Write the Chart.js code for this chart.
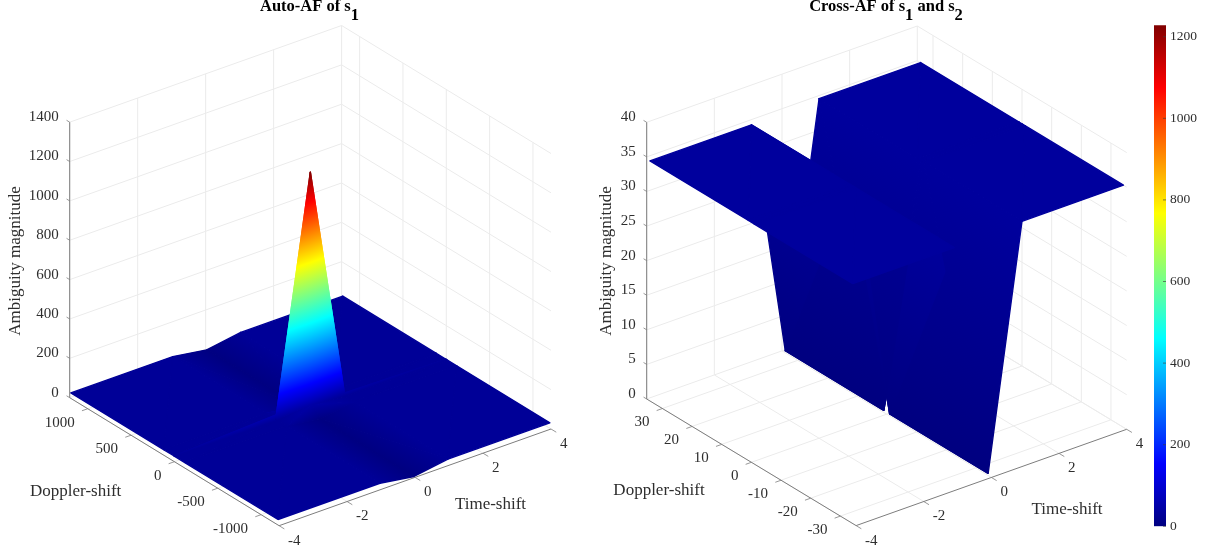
<!DOCTYPE html>
<html>
<head>
<meta charset="utf-8">
<title>Ambiguity functions</title>
<style>
    html, body { margin: 0; padding: 0; background: #fff; }
    body { position: relative; width: 1211px; height: 557px; overflow: hidden; }
    canvas { position: absolute; top: 0; }
    #autoChart { left: 0; }
    #crossChart { left: 595px; }
    #colorBar { left: 1140px; }
</style>
<script src="https://cdn.jsdelivr.net/npm/chart.js@4/dist/chart.umd.min.js"></script>
</head>
<body>
<canvas id="autoChart" width="595" height="557"></canvas>
<canvas id="crossChart" width="560" height="557"></canvas>
<canvas id="colorBar" width="71" height="557"></canvas>
<script>
// Values
var timeGrid = [-4, -1, 0, 1, 4];
var timeTicks = [-4, -2, 0, 2, 4];

var autoDoppler = [-1195, -120, -8, 0, 8, 120, 1195];
var autoMagnitude = [
    [28, 28, 28, 28, 28, 28, 28],
    [28, 28, 28, 53, 28, 28, 28],
    [1, 2, 47, 1225, 47, 2, 1],
    [28, 28, 28, 41, 28, 28, 28],
    [28, 28, 28, 28, 28, 28, 28]
];
var autoDopplerTicks = [-1000, -500, 0, 500, 1000];
var autoMagnitudeTicks = [0, 200, 400, 600, 800, 1000, 1200, 1400];

var crossDoppler = [-34.2, -1, 0, 1, 34.2];
var crossMagnitude = [
    [34.7, 34.7, 34.7, 34.7, 34.7],
    [34.7, 34.7, 34.7, 34.7, 34.7],
    [0.3, 0.3, 2.8, 0.3, 0.3],
    [35, 35, 35, 35, 35],
    [35, 35, 35, 35, 35]
];
var crossDopplerTicks = [-30, -20, -10, 0, 10, 20, 30];
var crossMagnitudeTicks = [0, 5, 10, 15, 20, 25, 30, 35, 40];

var colorTicks = [0, 200, 400, 600, 800, 1000, 1200];
var colorMax = 1228;

// jet colormap, position along the colour axis -> colour
var jetPositions = [0, 0.125, 0.375, 0.625, 0.875, 1];
var jetColors = [[0, 0, 128], [0, 0, 255], [0, 255, 255], [255, 255, 0], [255, 0, 0], [128, 0, 0]];

var SERIF = '"Liberation Serif", "Times New Roman", serif';
var TEXT_COLOR = '#2e2e2e';
var GRID_COLOR = '#ebebeb';
var AXIS_COLOR = '#7d7d7d';

function jet(value) {
    var p = Math.max(0, Math.min(1, value / colorMax));
    for (var i = 1; i < jetPositions.length; i++) {
        if (p <= jetPositions[i]) {
            var f = (p - jetPositions[i - 1]) / (jetPositions[i] - jetPositions[i - 1]);
            var a = jetColors[i - 1], b = jetColors[i];
            return 'rgb(' + Math.round(a[0] + (b[0] - a[0]) * f) + ',' +
                Math.round(a[1] + (b[1] - a[1]) * f) + ',' +
                Math.round(a[2] + (b[2] - a[2]) * f) + ')';
        }
    }
    return 'rgb(128,0,0)';
}

// 3D box of one panel as seen on the page
function makeView(cfg) {
    var near = [cfg.left[0] + cfg.right[0] - cfg.back[0], cfg.left[1] + cfg.right[1] - cfg.back[1]];
    var view = {
        cfg: cfg,
        left: cfg.left,
        near: near,
        back: cfg.back,
        right: cfg.right,
        zUnit: cfg.zPixels / cfg.zMax,
        tMin: -4,
        tMax: 4
    };
    view.ax = cfg.right[0] - near[0];
    view.ay = cfg.right[1] - near[1];
    view.bx = near[0] - cfg.left[0];
    view.by = near[1] - cfg.left[1];
    return view;
}

function project(view, t, d, z) {
    var u = (t - view.tMin) / (view.tMax - view.tMin);
    var v = (view.cfg.dMax - d) / (2 * view.cfg.dMax);
    return {
        x: view.left[0] + u * view.ax + v * view.bx,
        y: view.left[1] + u * view.ay + v * view.by - z * view.zUnit
    };
}

// bigger = closer to the viewer
function depth(view, t, d, z) {
    var u = (t - view.tMin) / (view.tMax - view.tMin);
    var v = (view.cfg.dMax - d) / (2 * view.cfg.dMax);
    var k = view.zUnit;
    return -k * view.bx * u + k * view.ax * v + (view.ax * view.by - view.bx * view.ay) * z * 1;
}

// linear gradient across a triangle so the colour follows the value at each corner
function triangleFill(chart, pts, vals) {
    var sx = chart.scales.x, sy = chart.scales.y;
    var lo = Math.min(vals[0], vals[1], vals[2]);
    var hi = Math.max(vals[0], vals[1], vals[2]);
    if (hi - lo < 0.01) {
        return jet(lo);
    }
    // scales have no pixels before the first layout
    if (!chart.chartArea || !sx || !isFinite(sx.getPixelForValue(pts[0].x))) {
        return jet((lo + hi) / 2);
    }
    var p = pts.map(function(q) {
        return [sx.getPixelForValue(q.x), sy.getPixelForValue(q.y)];
    });
    var dx1 = p[1][0] - p[0][0], dy1 = p[1][1] - p[0][1], dv1 = vals[1] - vals[0];
    var dx2 = p[2][0] - p[0][0], dy2 = p[2][1] - p[0][1], dv2 = vals[2] - vals[0];
    var det = dx1 * dy2 - dx2 * dy1;
    if (Math.abs(det) < 1e-6) {
        return jet((lo + hi) / 2);
    }
    var a = (dv1 * dy2 - dv2 * dy1) / det;
    var b = (dx1 * dv2 - dx2 * dv1) / det;
    var g2 = a * a + b * b;
    var start = p[vals.indexOf(lo)];
    var gradient = chart.ctx.createLinearGradient(start[0], start[1],
        start[0] + a * (hi - lo) / g2, start[1] + b * (hi - lo) / g2);
    gradient.addColorStop(0, jet(lo));
    jetPositions.forEach(function(pos) {
        var value = pos * colorMax;
        if (value > lo && value < hi) {
            gradient.addColorStop((value - lo) / (hi - lo), jet(value));
        }
    });
    gradient.addColorStop(1, jet(hi));
    return gradient;
}

function lineDataset(points, color, width) {
    return {
        data: points,
        showLine: true,
        fill: false,
        borderColor: color,
        borderWidth: width,
        pointRadius: 0,
        pointHoverRadius: 0
    };
}

function triangleDataset(pts, vals) {
    var colorOf = function(ctx) {
        return triangleFill(ctx.chart, pts, vals);
    };
    return {
        data: [pts[0], pts[1], pts[2], pts[0]],
        showLine: true,
        fill: 'shape',
        backgroundColor: colorOf,
        borderColor: colorOf,
        // wide enough to hide the seams between neighbouring triangles
        borderWidth: 1.4,
        borderJoinStyle: 'round',
        pointRadius: 0,
        pointHoverRadius: 0
    };
}

function surfaceDatasets(view, doppler, magnitude) {
    var triangles = [];
    function corner(i, j) {
        return { t: timeGrid[i], d: doppler[j], z: magnitude[i][j] };
    }
    function pushTriangle(a, b, c) {
        triangles.push({
            corners: [a, b, c],
            order: (depth(view, a.t, a.d, a.z) + depth(view, b.t, b.d, b.z) + depth(view, c.t, c.d, c.z)) / 3
        });
    }
    for (var i = 0; i < timeGrid.length - 1; i++) {
        for (var j = 0; j < doppler.length - 1; j++) {
            var a = corner(i, j), b = corner(i + 1, j), c = corner(i + 1, j + 1), e = corner(i, j + 1);
            // split along the flatter diagonal
            if (Math.abs(a.z - c.z) <= Math.abs(b.z - e.z)) {
                pushTriangle(a, b, c);
                pushTriangle(a, c, e);
            } else {
                pushTriangle(a, b, e);
                pushTriangle(b, c, e);
            }
        }
    }
    // first dataset is painted last, so the closest goes first
    triangles.sort(function(p, q) { return q.order - p.order; });
    return triangles.map(function(tri) {
        var pts = tri.corners.map(function(k) { return project(view, k.t, k.d, k.z); });
        var vals = tri.corners.map(function(k) { return k.z; });
        return triangleDataset(pts, vals);
    });
}

function frameDatasets(view, dopplerTicks, zTicks) {
    var out = [];
    var dMax = view.cfg.dMax, zMax = view.cfg.zMax;
    var tMin = view.tMin, tMax = view.tMax;

    // tick stubs and the three axis lines
    var zStub = dMax * 0.03, dStub = 0.17, tStub = dMax * 0.05;
    zTicks.forEach(function(z) {
        out.push(lineDataset([project(view, tMin, dMax, z), project(view, tMin, dMax + zStub, z)], AXIS_COLOR, 0.8));
    });
    dopplerTicks.forEach(function(d) {
        out.push(lineDataset([project(view, tMin, d, 0), project(view, tMin - dStub, d, 0)], AXIS_COLOR, 0.8));
    });
    timeTicks.forEach(function(t) {
        out.push(lineDataset([project(view, t, -dMax, 0), project(view, t, -dMax - tStub, 0)], AXIS_COLOR, 0.8));
    });
    out.push(lineDataset([project(view, tMin, dMax, 0), project(view, tMin, dMax, zMax)], AXIS_COLOR, 1));
    out.push(lineDataset([project(view, tMin, dMax, 0), project(view, tMin, -dMax, 0)], AXIS_COLOR, 1));
    out.push(lineDataset([project(view, tMin, -dMax, 0), project(view, tMax, -dMax, 0)], AXIS_COLOR, 1));

    // walls and floor
    zTicks.forEach(function(z) {
        out.push(lineDataset([project(view, tMin, dMax, z), project(view, tMax, dMax, z), project(view, tMax, -dMax, z)], GRID_COLOR, 1));
    });
    timeTicks.forEach(function(t) {
        out.push(lineDataset([project(view, t, -dMax, 0), project(view, t, dMax, 0), project(view, t, dMax, zMax)], GRID_COLOR, 1));
    });
    dopplerTicks.forEach(function(d) {
        out.push(lineDataset([project(view, tMin, d, 0), project(view, tMax, d, 0), project(view, tMax, d, zMax)], GRID_COLOR, 1));
    });
    return out;
}

function drawPanelText(chart, view, dopplerTicks, zTicks, text) {
    var ctx = chart.ctx;
    var sx = chart.scales.x, sy = chart.scales.y;

    function put(str, x, y, align) {
        ctx.textAlign = align;
        ctx.fillText(str, sx.getPixelForValue(x), sy.getPixelForValue(y));
    }

    ctx.save();
    ctx.fillStyle = TEXT_COLOR;
    ctx.textBaseline = 'middle';
    ctx.font = '15px ' + SERIF;

    zTicks.forEach(function(z) {
        var p = project(view, view.tMin, view.cfg.dMax, z);
        put(String(z), p.x - 11, p.y - 5, 'right');
    });
    dopplerTicks.forEach(function(d) {
        var p = project(view, view.tMin, d, 0);
        put(String(d), p.x - 13, p.y + 14, 'right');
    });
    timeTicks.forEach(function(t) {
        var p = project(view, t, -view.cfg.dMax, 0);
        put(String(t), p.x + 9, p.y + 15, 'left');
    });

    ctx.font = '17px ' + SERIF;
    put('Doppler-shift', text.doppler[0], text.doppler[1], 'center');
    put('Time-shift', text.time[0], text.time[1], 'center');

    ctx.save();
    ctx.translate(sx.getPixelForValue(text.magnitude[0]), sy.getPixelForValue(text.magnitude[1]));
    ctx.rotate(-Math.PI / 2);
    ctx.textAlign = 'center';
    ctx.fillText('Ambiguity magnitude', 0, 0);
    ctx.restore();

    // title with subscripts
    ctx.fillStyle = '#000';
    ctx.font = 'bold 16.5px ' + SERIF;
    var total = 0;
    text.title.forEach(function(part) { total += ctx.measureText(part.s).width; });
    var x = sx.getPixelForValue(text.titleAt[0]) - total / 2;
    ctx.textAlign = 'left';
    text.title.forEach(function(part) {
        ctx.fillText(part.s, x, sy.getPixelForValue(text.titleAt[1] + (part.sub ? 9 : 0)));
        x += ctx.measureText(part.s).width;
    });
    ctx.restore();
}

function makePanel(canvasId, xMin, xMax, view, doppler, magnitude, dopplerTicks, zTicks, text) {
    var datasets = surfaceDatasets(view, doppler, magnitude).concat(frameDatasets(view, dopplerTicks, zTicks));
    return new Chart(document.getElementById(canvasId), {
        type: 'scatter',
        data: { datasets: datasets },
        options: {
            responsive: false,
            animation: false,
            events: [],
            layout: { padding: 0, autoPadding: false },
            plugins: { legend: { display: false }, tooltip: { enabled: false } },
            scales: {
                x: { type: 'linear', display: false, min: xMin, max: xMax },
                y: { type: 'linear', display: false, min: 0, max: 557, reverse: true }
            }
        },
        plugins: [{
            id: 'panelText',
            afterDraw: function(chart) {
                drawPanelText(chart, view, dopplerTicks, zTicks, text);
            }
        }]
    });
}

var autoView = makeView({
    left: [69.7, 397.7], back: [341.6, 301], right: [551, 429],
    zPixels: 275.5, zMax: 1400, dMax: 1208
});
var crossView = makeView({
    left: [646.7, 399], back: [917.3, 302.7], right: [1126.7, 429.3],
    zPixels: 276.7, zMax: 40, dMax: 35.3
});

makePanel('autoChart', 0, 595, autoView, autoDoppler, autoMagnitude, autoDopplerTicks, autoMagnitudeTicks, {
    title: [{ s: 'Auto-AF of s' }, { s: '1', sub: true }],
    titleAt: [309.5, 7],
    doppler: [75.7, 491.5],
    time: [490.5, 505],
    magnitude: [15.5, 261]
});

makePanel('crossChart', 595, 1155, crossView, crossDoppler, crossMagnitude, crossDopplerTicks, crossMagnitudeTicks, {
    title: [{ s: 'Cross-AF of s' }, { s: '1', sub: true }, { s: ' and s' }, { s: '2', sub: true }],
    titleAt: [886, 7],
    doppler: [659, 491],
    time: [1067, 509.5],
    magnitude: [607, 261]
});

// colour bar: one floating bar on a real value axis
new Chart(document.getElementById('colorBar'), {
    type: 'bar',
    data: {
        labels: [''],
        datasets: [{
            data: [[0, colorMax]],
            barPercentage: 1,
            categoryPercentage: 1,
            borderWidth: 0,
            backgroundColor: function(ctx) {
                var area = ctx.chart.chartArea;
                if (!area) {
                    return jet(0);
                }
                var gradient = ctx.chart.ctx.createLinearGradient(0, area.bottom, 0, area.top);
                jetPositions.forEach(function(pos) {
                    gradient.addColorStop(pos, jet(pos * colorMax));
                });
                return gradient;
            }
        }]
    },
    options: {
        responsive: false,
        animation: false,
        events: [],
        layout: { padding: { left: 14, top: 25.3, bottom: 30.7, right: 0 }, autoPadding: false },
        plugins: { legend: { display: false }, tooltip: { enabled: false } },
        scales: {
            x: { display: false },
            y: {
                position: 'right',
                min: 0,
                max: colorMax,
                border: { display: false },
                grid: { display: false, tickLength: 0 },
                afterBuildTicks: function(scale) {
                    scale.ticks = colorTicks.map(function(v) { return { value: v }; });
                },
                afterFit: function(scale) {
                    scale.width = 45;
                },
                ticks: {
                    autoSkip: false,
                    maxRotation: 0,
                    padding: 4,
                    color: TEXT_COLOR,
                    font: { family: SERIF, size: 13.5 },
                    callback: function(value) { return String(value); }
                }
            }
        }
    },
    plugins: [{
        id: 'barTicks',
        afterDatasetsDraw: function(chart) {
            var ctx = chart.ctx, area = chart.chartArea, y = chart.scales.y;
            ctx.save();
            ctx.strokeStyle = 'rgba(60,60,60,0.8)';
            ctx.lineWidth = 0.8;
            colorTicks.forEach(function(v) {
                ctx.beginPath();
                ctx.moveTo(area.right - 3, y.getPixelForValue(v));
                ctx.lineTo(area.right, y.getPixelForValue(v));
                ctx.stroke();
            });
            ctx.restore();
        }
    }]
});
</script>
</body>
</html>
